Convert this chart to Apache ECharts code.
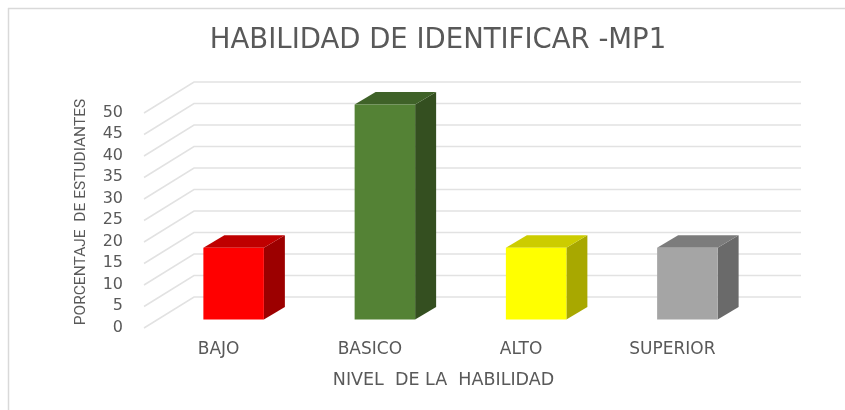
<!DOCTYPE html>
<html>
<head>
<meta charset="utf-8">
<script src="https://cdn.jsdelivr.net/npm/echarts@6/dist/echarts.min.js"></script>
<style>
  html, body { margin: 0; padding: 0; background: #fff; }
  #main { width: 845px; height: 410px; }
</style>
</head>
<body>
<div id="main"></div>
<script>
var categories = ["BAJO", "BASICO", "ALTO", "SUPERIOR"];
var porcentajes = [16.67, 50, 16.67, 16.67];
var ticks = [0, 5, 10, 15, 20, 25, 30, 35, 40, 45, 50];
var frontColors = ["#ff0000", "#548235", "#ffff00", "#a5a5a5"];
var topColors = ["#bf0000", "#3f6228", "#cccc00", "#7c7c7c"];
var sideColors = ["#9c0000", "#344f20", "#a8a800", "#6a6a6a"];

var textColor = "#595959";
var font = "DejaVu Sans";

var myChart = echarts.init(document.getElementById("main"));

// pseudo 3D: wall and floor are offsets from the plane the bars stand on
function renderWall(params, api) {
  var y = api.coord([0, api.value(0)])[1];
  var left = params.coordSys.x;
  var right = left + params.coordSys.width;
  return {
    type: "polyline",
    silent: true,
    shape: { points: [[left - 14, y + 8.5], [left + 36, y - 22.5], [right + 38, y - 22.5]] },
    style: { fill: null, stroke: "#e2e2e2", lineWidth: 1.5 }
  };
}

function renderBar(params, api) {
  var i = api.value(0);
  var base = api.coord([i, 0]);
  var head = api.coord([i, api.value(1)]);
  var w = api.size([1, 0])[0] * 0.4;
  var x0 = base[0] - w / 2, x1 = base[0] + w / 2;
  var dx = 21, dy = -12.5;
  return {
    type: "group",
    children: [
      {
        type: "polygon",
        shape: { points: [[x1, base[1]], [x1 + dx, base[1] + dy], [x1 + dx, head[1] + dy], [x1, head[1]]] },
        style: { fill: sideColors[i] }
      },
      {
        type: "polygon",
        shape: { points: [[x0, head[1]], [x0 + dx, head[1] + dy], [x1 + dx, head[1] + dy], [x1, head[1]]] },
        style: { fill: topColors[i] }
      },
      {
        type: "rect",
        shape: { x: x0, y: head[1], width: w, height: base[1] - head[1] },
        style: { fill: frontColors[i] }
      }
    ]
  };
}

var option = {
  animation: false,
  backgroundColor: "#fff",
  title: {
    text: "HABILIDAD DE IDENTIFICAR -MP1",
    left: 433,
    top: 22,
    textAlign: "center",
    textStyle: { color: textColor, fontFamily: font, fontWeight: "normal", fontSize: 27.5 }
  },
  graphic: [
    { type: "line", shape: { x1: 8.5, y1: 8, x2: 8.5, y2: 410 }, style: { stroke: "#d9d9d9", lineWidth: 1.5 } },
    { type: "line", shape: { x1: 8, y1: 8.5, x2: 845, y2: 8.5 }, style: { stroke: "#d9d9d9", lineWidth: 1.5 } }
  ],
  grid: { left: 158, top: 104.5, width: 605, height: 215 },
  xAxis: {
    type: "category",
    data: categories,
    name: "NIVEL  DE LA  HABILIDAD",
    nameLocation: "middle",
    nameGap: 52,
    nameTextStyle: { color: textColor, fontFamily: font, fontSize: 17.5, padding: [0, 34, 0, 0] },
    axisLine: { show: false },
    axisTick: { show: false },
    axisLabel: { color: textColor, fontFamily: font, fontSize: 17, margin: 22, padding: [0, 30, 0, 0] }
  },
  yAxis: {
    type: "value",
    min: 0,
    max: 50,
    interval: 5,
    name: "PORCENTAJE  DE ESTUDIANTES",
    nameLocation: "middle",
    nameGap: 69,
    nameTextStyle: { color: textColor, fontFamily: "Roboto", fontSize: 15.5 },
    axisLine: { show: false },
    axisTick: { show: false },
    splitLine: { show: false },
    axisLabel: { color: textColor, fontFamily: font, fontSize: 16, margin: 35, verticalAlign: "top" }
  },
  series: [
    {
      type: "custom",
      name: "wall",
      renderItem: renderWall,
      data: ticks.map(function (t) { return [t]; }),
      encode: { y: 0 },
      z: 1
    },
    {
      type: "custom",
      name: "porcentaje",
      renderItem: renderBar,
      data: porcentajes.map(function (v, i) { return [i, v]; }),
      encode: { x: 0, y: 1 },
      z: 2
    }
  ]
};

myChart.setOption(option);
</script>
</body>
</html>
